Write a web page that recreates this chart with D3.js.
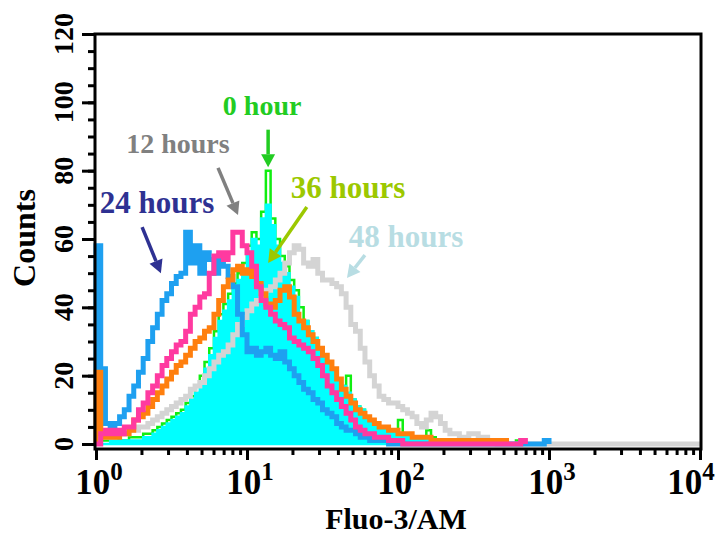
<!DOCTYPE html>
<html>
<head>
<meta charset="utf-8">
<script src="https://cdn.jsdelivr.net/npm/d3@7"></script>
<style>
  body { margin: 0; background: #fff; }
  svg text { font-family: "Liberation Serif", "Times New Roman", serif; font-weight: bold; }
</style>
</head>
<body>
<div id="chart"></div>
<script>
// Histogram counts, 32 log bins per decade starting at 10^0
const binsPerDecade = 32;

const counts0h = [
  0, 1, 1, 1, 1, 1, 1, 2, 2, 2,
  3, 3, 4, 5, 6, 7, 8, 9, 10, 12,
  14, 17, 20, 24, 28, 33, 38, 41, 44, 47,
  50, 53, 58, 62, 60, 68, 80, 66, 60, 55,
  52, 48, 45, 40, 36, 33, 31, 28, 26, 23,
  21, 19, 17, 20, 13, 11, 10, 8, 7, 6,
  5, 4, 4, 4, 7, 3, 3, 2, 2, 2,
  4, 2, 1, 1, 0, 0, 0, 0, 0, 0,
  0, 0, 0, 0, 0, 0, 0, 0, 0, 1
];
const countsFill = [
  0, 0, 0, 1, 1, 1, 1, 1, 1, 1,
  2, 2, 3, 4, 5, 6, 7, 8, 9, 11,
  13, 15, 18, 22, 26, 31, 36, 39, 42, 45,
  48, 51, 55, 60, 58, 66, 70, 64, 58, 53,
  50, 46, 43, 35, 36, 33, 31, 28, 26, 23,
  21, 19, 17, 15, 13, 11, 10, 8, 7, 6,
  5, 4, 4, 4, 3, 3, 3, 2, 2, 2,
  2, 1, 1
];
const counts12h = [
  0, 3, 4, 3, 4, 3, 5, 5, 7, 10,
  12, 15, 17, 20, 23, 25, 27, 29, 30, 33,
  38, 40, 43, 44, 50, 55, 56, 54, 56, 62,
  62, 58, 56, 52, 46, 42, 40, 38, 36, 35,
  34, 31, 30, 29, 28, 27, 25, 23, 20, 17,
  15, 13, 11, 9, 7, 5, 4, 3, 3, 2,
  2, 2, 1, 1, 1, 0, 0, 0, 0, 0,
  0, 0, 0, 0, 0, 0, 0, 0, 0, 0,
  0, 0, 0, 0, 0, 0, 0, 0, 0, 0,
  1
];
const counts24h = [
  58, 22, 6, 5, 6, 8, 10, 14, 17, 21,
  25, 30, 34, 38, 42, 44, 47, 49, 50, 62,
  53, 58, 50, 56, 54, 50, 55, 52, 49, 46,
  38, 32, 27, 28, 26, 27, 28, 26, 25, 27,
  24, 22, 20, 18, 16, 15, 13, 12, 10, 9,
  8, 6, 5, 4, 4, 3, 2, 2, 1, 1,
  1, 1, 0, 0, 0, 0, 0, 0, 0, 0,
  0, 0, 0, 0, 0, 0, 0, 0, 0, 0,
  0, 0, 0, 0, 0, 0, 0, 0, 0, 0,
  0, 0, 0, 0, 0, 1
];
const counts36h = [
  21, 3, 2, 2, 2, 3, 3, 4, 7, 8,
  9, 11, 13, 15, 17, 19, 21, 23, 24, 26,
  28, 30, 31, 33, 34, 38, 42, 46, 48, 51,
  52, 50, 51, 49, 47, 44, 41, 40, 42, 45,
  46, 43, 38, 36, 34, 32, 30, 28, 26, 24,
  22, 19, 16, 14, 12, 10, 9, 8, 7, 6,
  5, 5, 4, 4, 3, 3, 3, 2, 2, 2,
  2, 1, 1, 1, 1, 1, 1, 1, 1, 1,
  1, 1, 1, 1, 1, 1, 1
];
const counts48h = [
  20, 3, 2, 2, 3, 3, 3, 4, 4, 5,
  5, 6, 7, 8, 9, 10, 11, 12, 13, 14,
  16, 17, 18, 20, 22, 24, 26, 27, 29, 32,
  35, 37, 39, 41, 42, 44, 45, 46, 48, 50,
  53, 56, 58, 57, 53, 52, 54, 50, 48, 48,
  47, 46, 44, 40, 35, 33, 28, 24, 20, 17,
  14, 13, 12, 12, 11, 10, 9, 8, 6, 5,
  7, 9, 8, 6, 4, 3, 3, 2, 2, 3,
  3, 2, 2, 1, 1
];

const yTicks = [0, 20, 40, 60, 80, 100, 120];
const xDecades = [0, 1, 2, 3, 4];

// callouts: label, text position and arrow (tail -> tip) in data units
const callouts = [
  { label: "0 hour", color: "#22cc22", size: 28, at: [12.6, 96.3], tail: [13.8, 92], tip: [13.8, 81] },
  { label: "12 hours", color: "#808080", size: 28, at: [3.49, 85.2], tail: [6.43, 80.8], tip: [8.72, 67] },
  { label: "24 hours", color: "#2e3192", size: 31, at: [2.54, 67.6], tail: [2.02, 63.5], tip: [2.69, 50] },
  { label: "36 hours", color: "#9cc800", size: 31, at: [46.7, 72], tail: [24.9, 69.4], tip: [13.8, 53] },
  { label: "48 hours", color: "#b8dde3", size: 31, at: [113, 57.7], tail: [60.4, 55.3], tip: [45.9, 48.6] }
];

const W = 723, H = 534;
const frame = { left: 95, right: 701, top: 34, bottom: 449 };

const svg = d3.select("#chart").append("svg")
  .attr("width", W)
  .attr("height", H);

const x = d3.scaleLog().domain([1, 1e4]).range([96, 700]);
const y = d3.scaleLinear().domain([0, 120]).range([444, 34]);

const edge = i => Math.pow(10, i / binsPerDecade);

function stepPoints(vals, extendTo) {
  const pts = [[edge(0), 0]];
  vals.forEach((v, i) => pts.push([edge(i), v]));
  pts.push([edge(vals.length), 0]);
  if (extendTo) pts.push([extendTo, 0]);
  return pts;
}

const line = d3.line()
  .x(d => x(d[0]))
  .y(d => y(d[1]))
  .curve(d3.curveStepAfter);

const area = d3.area()
  .x(d => x(d[0]))
  .y0(y(0))
  .y1(d => y(d[1]))
  .curve(d3.curveStepAfter);

const plot = svg.append("g");

// 0 hour outline underneath the filled histogram
plot.append("path")
  .attr("d", line(stepPoints(counts0h)))
  .attr("fill", "none")
  .attr("stroke", "#11ee11")
  .attr("stroke-width", 2.5);

plot.append("path")
  .attr("d", area(stepPoints(countsFill)))
  .attr("fill", "#00ffff")
  .attr("stroke", "#00ffff")
  .attr("stroke-width", 2.5);

const outlines = [
  { vals: counts48h, color: "#d4d4d4", ext: 1e4 },
  { vals: counts24h, color: "#1ea0f0" },
  { vals: counts36h, color: "#ff7f0e" },
  { vals: counts12h, color: "#ff3aa0" }
];

outlines.forEach(s => {
  plot.append("path")
    .attr("d", line(stepPoints(s.vals, s.ext)))
    .attr("fill", "none")
    .attr("stroke", s.color)
    .attr("stroke-width", 5)
    .attr("stroke-linejoin", "miter");
});

// frame
svg.append("rect")
  .attr("x", frame.left)
  .attr("y", frame.top)
  .attr("width", frame.right - frame.left)
  .attr("height", frame.bottom - frame.top)
  .attr("fill", "none")
  .attr("stroke", "#000")
  .attr("stroke-width", 3);

// y axis ticks
const yMinor = d3.range(0, 121, 5);
svg.append("g")
  .attr("transform", `translate(${frame.left},0)`)
  .call(d3.axisLeft(y).tickValues(yMinor).tickSize(7).tickSizeOuter(0).tickFormat(""))
  .call(g => g.select(".domain").remove())
  .call(g => g.selectAll("line").attr("stroke-width", 3));

svg.append("g")
  .attr("transform", `translate(${frame.left},0)`)
  .call(d3.axisLeft(y).tickValues(yTicks).tickSize(13).tickSizeOuter(0).tickFormat(""))
  .call(g => g.select(".domain").remove())
  .call(g => g.selectAll("line").attr("stroke-width", 3));

svg.append("g").selectAll("text")
  .data(yTicks)
  .join("text")
  .attr("transform", d => `translate(${frame.left - 22},${y(d)}) rotate(-90)`)
  .attr("text-anchor", "middle")
  .attr("font-size", 28)
  .text(d => d);

// x axis ticks
const xMinor = [];
xDecades.slice(0, -1).forEach(k => {
  for (let m = 2; m <= 9; m++) xMinor.push(m * Math.pow(10, k));
});
const xMajor = xDecades.map(k => Math.pow(10, k));

svg.append("g")
  .attr("transform", `translate(0,${frame.bottom})`)
  .call(d3.axisBottom(x).tickValues(xMinor).tickSize(6).tickSizeOuter(0).tickFormat(""))
  .call(g => g.select(".domain").remove())
  .call(g => g.selectAll("line").attr("stroke-width", 3));

svg.append("g")
  .attr("transform", `translate(0,${frame.bottom})`)
  .call(d3.axisBottom(x).tickValues(xMajor).tickSize(11).tickSizeOuter(0).tickFormat(""))
  .call(g => g.select(".domain").remove())
  .call(g => g.selectAll("line").attr("stroke-width", 3));

const xl = svg.append("g").selectAll("text")
  .data(xDecades)
  .join("text")
  .attr("x", k => Math.min(x(Math.pow(10, k)) + 3, W - 32))
  .attr("y", 494)
  .attr("text-anchor", "middle")
  .attr("font-size", 35);
xl.append("tspan").text("10");
xl.append("tspan").attr("font-size", 25).attr("dy", -14).text(k => k);

// axis titles
svg.append("text")
  .attr("x", 396)
  .attr("y", 529)
  .attr("text-anchor", "middle")
  .attr("font-size", 30)
  .text("Fluo-3/AM");

svg.append("text")
  .attr("transform", "translate(35,238) rotate(-90)")
  .attr("text-anchor", "middle")
  .attr("font-size", 32)
  .text("Counts");

// callouts
const ann = svg.append("g");
callouts.forEach(c => {
  ann.append("text")
    .attr("x", x(c.at[0]))
    .attr("y", y(c.at[1]))
    .attr("text-anchor", "middle")
    .attr("font-size", c.size)
    .attr("fill", c.color)
    .text(c.label);

  const x1 = x(c.tail[0]), y1 = y(c.tail[1]);
  const x2 = x(c.tip[0]), y2 = y(c.tip[1]);
  const ang = Math.atan2(y2 - y1, x2 - x1);
  const headLen = 13, headW = 7;
  const bx = x2 - headLen * Math.cos(ang), by = y2 - headLen * Math.sin(ang);
  ann.append("line")
    .attr("x1", x1).attr("y1", y1)
    .attr("x2", bx).attr("y2", by)
    .attr("stroke", c.color)
    .attr("stroke-width", 3.5);
  const px = -Math.sin(ang) * headW, py = Math.cos(ang) * headW;
  ann.append("path")
    .attr("d", `M${x2},${y2}L${bx + px},${by + py}L${bx - px},${by - py}Z`)
    .attr("fill", c.color);
});
</script>
</body>
</html>
